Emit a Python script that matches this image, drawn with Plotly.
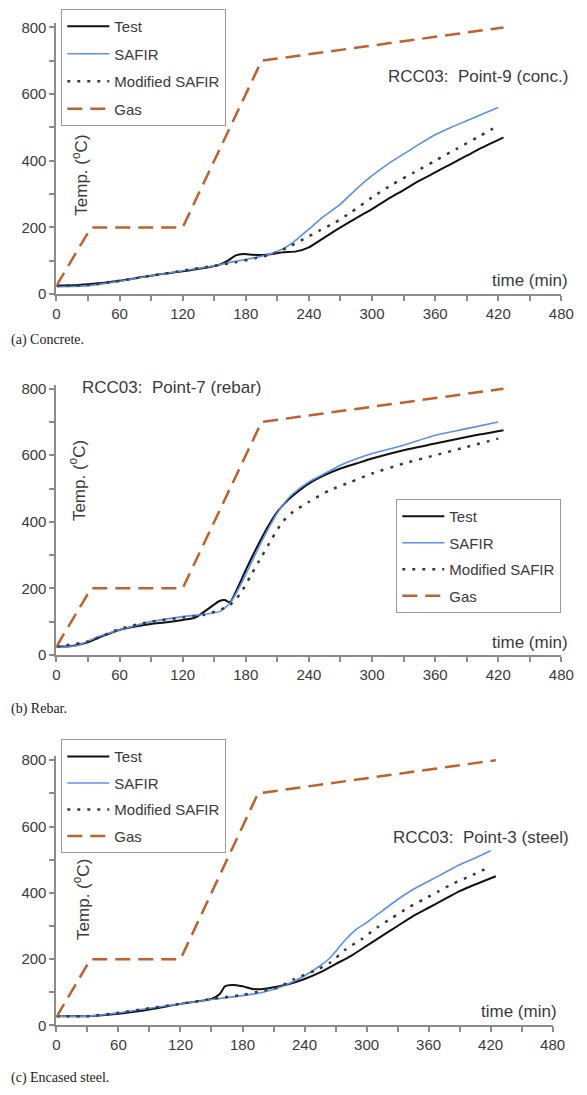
import plotly.graph_objects as go

W, H = 587, 1095

# ---------------- data ----------------
gas_t = [0, 33, 120, 195, 425]
gas_T = [25, 200, 200, 700, 800]

# (a) Concrete
a_test_t = [0, 20, 40, 60, 80, 100, 120, 140, 155, 163, 170, 178, 186, 195, 205, 215, 228, 240, 255, 270, 285, 300, 315, 330, 345, 360, 375, 390, 405, 425]
a_test_T = [25, 27, 32, 40, 50, 60, 68, 78, 88, 100, 115, 120, 118, 117, 120, 125, 128, 140, 170, 200, 228, 255, 285, 312, 340, 365, 390, 415, 440, 470]
a_safir_t = [0, 30, 60, 90, 120, 150, 170, 190, 205, 215, 225, 240, 255, 270, 285, 300, 315, 330, 345, 360, 375, 390, 405, 420]
a_safir_T = [22, 25, 38, 55, 70, 85, 98, 110, 122, 135, 155, 195, 235, 270, 315, 355, 390, 420, 450, 478, 500, 520, 540, 560]
a_mod_t = [0, 30, 60, 90, 120, 150, 170, 190, 205, 220, 235, 250, 265, 280, 300, 320, 340, 360, 380, 400, 420]
a_mod_T = [25, 27, 40, 55, 70, 85, 95, 108, 120, 140, 165, 190, 215, 245, 290, 330, 365, 400, 435, 470, 505]

# (b) Rebar
b_test_t = [0, 15, 30, 45, 60, 75, 90, 105, 120, 132, 145, 155, 160, 165, 172, 180, 190, 200, 210, 220, 230, 240, 255, 270, 285, 300, 330, 360, 390, 425]
b_test_T = [25, 27, 38, 58, 75, 85, 93, 98, 105, 112, 140, 162, 165, 158, 200, 255, 320, 380, 430, 465, 492, 515, 540, 560, 575, 590, 615, 635, 655, 675]
b_safir_t = [0, 20, 40, 60, 90, 120, 140, 155, 165, 175, 185, 195, 205, 215, 225, 240, 255, 270, 300, 330, 360, 390, 420]
b_safir_T = [22, 28, 55, 75, 100, 115, 122, 130, 155, 210, 275, 340, 400, 450, 485, 520, 545, 570, 605, 630, 660, 680, 700]
b_mod_t = [0, 30, 60, 90, 120, 140, 155, 165, 175, 185, 195, 205, 215, 225, 240, 260, 280, 300, 330, 360, 390, 420]
b_mod_T = [25, 40, 78, 100, 112, 120, 135, 150, 185, 240, 295, 350, 400, 430, 460, 495, 520, 545, 575, 600, 625, 650]

# (c) Encased steel
c_test_t = [0, 30, 60, 90, 120, 150, 158, 163, 170, 180, 190, 200, 210, 225, 240, 255, 270, 285, 300, 315, 330, 345, 360, 375, 390, 405, 425]
c_test_T = [28, 28, 35, 48, 65, 80, 95, 118, 122, 118, 110, 110, 115, 125, 140, 160, 185, 210, 240, 270, 300, 330, 355, 380, 405, 425, 450]
c_safir_t = [0, 30, 60, 90, 120, 150, 180, 200, 220, 240, 255, 265, 280, 290, 300, 315, 330, 345, 360, 375, 390, 405, 420]
c_safir_T = [28, 28, 38, 52, 65, 78, 90, 100, 120, 150, 180, 205, 260, 290, 310, 345, 380, 410, 435, 460, 485, 505, 527]
c_mod_t = [0, 30, 60, 90, 120, 150, 180, 200, 215, 230, 250, 265, 280, 295, 310, 325, 340, 355, 370, 385, 400, 420]
c_mod_T = [28, 28, 38, 52, 65, 80, 92, 105, 115, 140, 165, 190, 230, 260, 295, 325, 355, 380, 405, 430, 450, 480]

x_major_step, x_minor_step = 60, 30
y_major_step, y_minor_step = 200, 100

series_names = ["Test", "SAFIR", "Modified SAFIR", "Gas"]
panel_titles = ["RCC03:  Point-9 (conc.)", "RCC03:  Point-7 (rebar)", "RCC03:  Point-3 (steel)"]
captions = ["(a) Concrete.", "(b) Rebar.", "(c) Encased steel."]

# ---------------- styling / layout ----------------
SANS = "Liberation Sans, Arial, sans-serif"
SERIF = "Liberation Serif, Times New Roman, serif"
AXIS_C = "#8c8c8c"
TXT_C = "#3a3a3a"
styles = [
    dict(color="#111111", width=2, dash="solid"),
    dict(color="#5b8ff0", width=1.6, dash="solid"),
    dict(color="#3a3a3a", width=2.5, dash="3px,7px"),
    dict(color="#c0602e", width=2.5, dash="15px,8px"),
]

# pixel geometry of each panel: x of t=0, x of t=480, y of T=0, y of T=800
geom = [
    (54, 574, 292.5, 22.7),
    (54, 574, 657.7, 388.3),
    (54, 565, 1032.7, 764.3),
]
YTOP = 812

panels = [
    (a_test_t, a_test_T, a_safir_t, a_safir_T, a_mod_t, a_mod_T),
    (b_test_t, b_test_T, b_safir_t, b_safir_T, b_mod_t, b_mod_T),
    (c_test_t, c_test_T, c_safir_t, c_safir_T, c_mod_t, c_mod_T),
]

fig = go.Figure()
layout = dict(width=W, height=H, margin=dict(l=0, r=0, t=0, b=0),
              paper_bgcolor="white", plot_bgcolor="white", showlegend=True)

legend_pos = [(59, 4), (404, 500), (59, 743)]
legend_gap = [5, 4, 4]

annotations = []

def px(x, y):
    return x / W, 1 - y / H

tick_common = dict(showline=True, linecolor=AXIS_C, linewidth=2, ticks="outside", ticklen=5,
                   tickwidth=1.5, tickcolor=AXIS_C, showgrid=False, zeroline=False,
                   tickfont=dict(size=15, family=SANS, color=TXT_C))

for i, (p, g) in enumerate(zip(panels, geom)):
    sfx = "" if i == 0 else str(i + 1)
    lg = "legend" if i == 0 else f"legend{i + 1}"
    tt, tT, st, sT, mt, mT = p
    data = [(tt, tT), (st, sT), (mt, mT), (gas_t, gas_T)]
    for j, (xs, ys) in enumerate(data):
        fig.add_trace(go.Scatter(
            x=xs, y=ys, mode="lines", name=series_names[j],
            line=dict(**styles[j], shape="spline", smoothing=0.6) if j < 3 else dict(**styles[j]),
            xaxis="x" + sfx, yaxis="y" + sfx, legend=lg,
            legendgroup=f"g{i}{j}", hoverinfo="skip"))
    x0, x480, y0, y800 = g
    pxu = (y0 - y800) / 800
    ytop_px = y0 - YTOP * pxu
    layout["xaxis" + sfx] = dict(
        domain=[x0 / W, x480 / W], range=[0, 480], anchor="y" + sfx,
        tick0=0, dtick=x_major_step,
        minor=dict(dtick=x_minor_step, tick0=0, ticks="outside", ticklen=5, tickwidth=1.5, tickcolor=AXIS_C),
        **tick_common)
    layout["yaxis" + sfx] = dict(
        domain=[1 - y0 / H, 1 - ytop_px / H], range=[0, YTOP], anchor="x" + sfx,
        tick0=0, dtick=y_major_step,
        minor=dict(dtick=y_minor_step, tick0=0, ticks="outside", ticklen=5, tickwidth=1.5, tickcolor=AXIS_C),
        **tick_common)
    lx, ly = legend_pos[i]
    layout[lg] = dict(
        x=lx / W, y=1 - ly / H, xanchor="left", yanchor="top",
        bgcolor="white", bordercolor="#9a9a9a", borderwidth=1,
        font=dict(size=15, family=SANS, color=TXT_C),
        itemwidth=42, tracegroupgap=legend_gap[i], traceorder="grouped")

# titles
title_pos = [(583, 72, "right"), (78, 387, "left"), (584, 842, "right")]
for i, (x, y, al) in enumerate(title_pos):
    ax, ay = px(x, y)
    annotations.append(dict(text=panel_titles[i], x=ax, y=ay, xref="paper", yref="paper",
                            xanchor=al, yanchor="middle", showarrow=False,
                            font=dict(size=17, family=SANS, color=TXT_C)))
# time (min)
for x, y in [(583, 279), (583, 645), (572, 1019)]:
    ax, ay = px(x, y)
    annotations.append(dict(text="time (min)", x=ax, y=ay, xref="paper", yref="paper",
                            xanchor="right", yanchor="middle", showarrow=False,
                            font=dict(size=17, family=SANS, color=TXT_C)))
# Temp label
for x, y in [(78, 172), (76, 481), (80, 905)]:
    ax, ay = px(x, y)
    annotations.append(dict(text="Temp. (<sup>o</sup>C)", x=ax, y=ay, xref="paper", yref="paper",
                            xanchor="center", yanchor="middle", showarrow=False, textangle=-90,
                            font=dict(size=17, family=SANS, color=TXT_C)))
# captions
for i, y in enumerate([339, 712, 1086]):
    ax, ay = px(5, y)
    annotations.append(dict(text=captions[i], x=ax, y=ay, xref="paper", yref="paper",
                            xanchor="left", yanchor="middle", showarrow=False,
                            font=dict(size=14, family=SERIF, color="#222")))

layout["annotations"] = annotations
fig.update_layout(**layout)
fig.write_html("out.html")
